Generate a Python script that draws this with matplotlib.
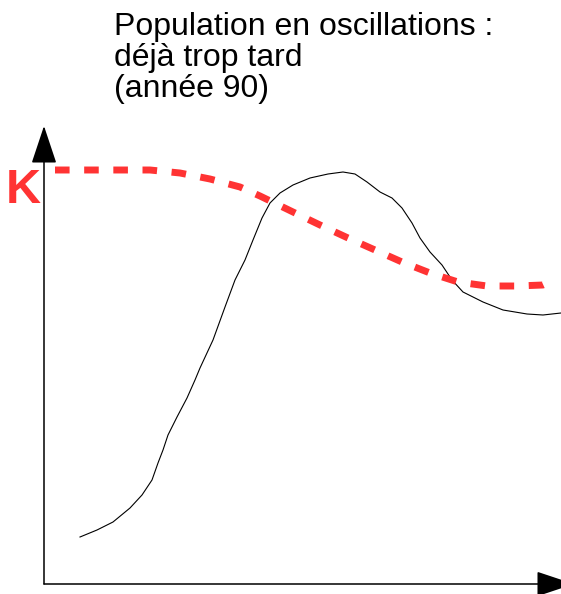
import matplotlib.pyplot as plt

# axes frame (pixel space of the drawing)
origin_x, origin_y = 44, 584
top_y = 126
right_x = 574

# carrying capacity K (red dashes)
k_x = [55, 100, 150, 180, 210, 240, 260, 293, 320, 348, 375, 402, 430, 458, 487, 517, 543, 552]
k_y = [170, 170, 170, 173, 179, 187, 196, 212, 225, 238, 250, 262, 273, 282, 286, 286, 285, 281]

# population (black line)
pop_x = [80, 97, 113, 130, 142, 152, 158, 163, 168, 177, 187, 195, 200, 213, 225, 235, 245,
         253, 262, 270, 280, 293, 310, 328, 343, 355, 367, 380, 392, 402, 412, 420, 430,
         442, 452, 463, 483, 503, 527, 543, 561]
pop_y = [537, 530, 522, 508, 495, 480, 463, 450, 435, 417, 398, 380, 368, 340, 307, 280, 260,
         240, 218, 203, 193, 185, 178, 174, 172, 174, 182, 192, 198, 208, 223, 238, 252,
         265, 280, 292, 302, 310, 314, 315, 313]

title_lines = ["Population en oscillations :", "déjà trop tard", "(année 90)"]

plt.rcParams['font.family'] = ['Liberation Sans', 'DejaVu Sans']

fig = plt.figure(figsize=(5.61, 5.94), dpi=100)
ax = fig.add_axes([0, 0, 1, 1])
ax.set_xlim(0, 561)
ax.set_ylim(594, 0)
ax.axis('off')

# axes with arrowheads
arrow = dict(arrowstyle="-|>,head_length=2.4,head_width=0.8", mutation_scale=10,
             color='black', lw=1.1, shrinkA=0, shrinkB=0)
ax.annotate("", xy=(origin_x, top_y), xytext=(origin_x, origin_y), arrowprops=arrow)
ax.annotate("", xy=(right_x, origin_y), xytext=(origin_x, origin_y), arrowprops=arrow,
            annotation_clip=False)

ax.plot(pop_x, pop_y, color='black', lw=0.8, solid_joinstyle='round')
ax.plot(k_x, k_y, color='#ff3333', lw=5, dashes=(2.1, 2.1), solid_capstyle='butt',
        dash_capstyle='butt')

ax.text(6, 203, "K", color='#ff3333', fontsize=35, fontweight='bold', va='baseline', ha='left')

for i, line in enumerate(title_lines):
    ax.text(114, 35 + i * 31, line, fontsize=23, va='baseline', ha='left')

fig.savefig("out.png", dpi=100)
